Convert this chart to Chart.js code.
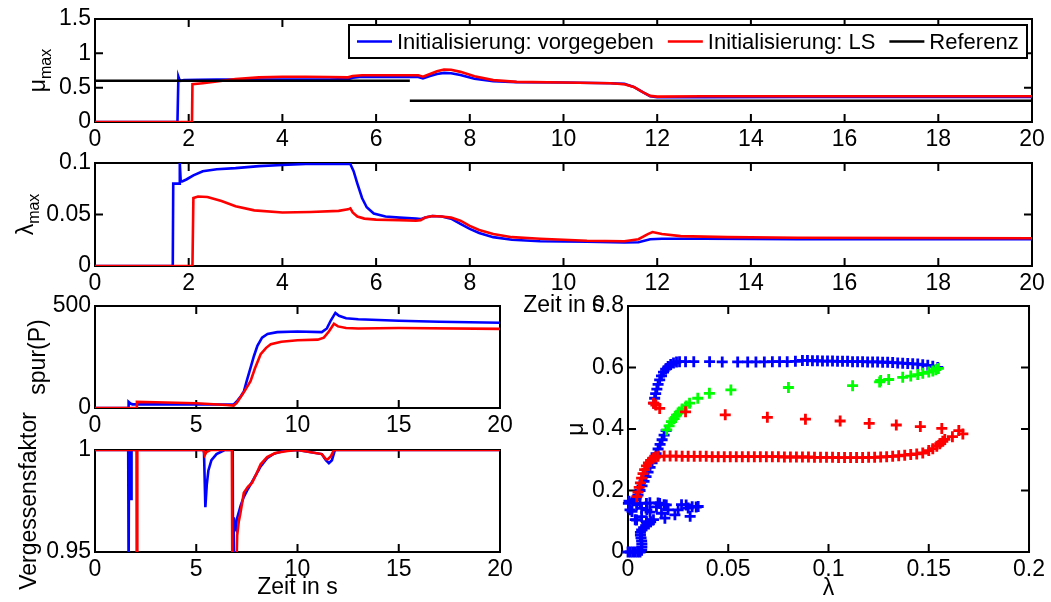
<!DOCTYPE html>
<html>
<head>
<meta charset="utf-8">
<script src="https://cdn.jsdelivr.net/npm/chart.js@4/dist/chart.umd.min.js"></script>
<style>
html, body { margin: 0; padding: 0; background: #fff; }
#wrap { position: relative; width: 1051px; height: 602px; }
#wrap canvas { position: absolute; left: 0; top: 0; }
</style>
</head>
<body>
<div id="wrap">
  <canvas id="cMu" width="1051" height="602"></canvas>
  <canvas id="cLa" width="1051" height="602"></canvas>
  <canvas id="cSp" width="1051" height="602"></canvas>
  <canvas id="cVf" width="1051" height="602"></canvas>
  <canvas id="cSc" width="1051" height="602"></canvas>
</div>
<script>
// ---- Daten ----
// mu_max
const tMuB = [0,1.76,1.78,1.80,1.83,1.9,2.2,2.6,3,4,5,5.4,5.5,5.65,6.2,6.9,7.0,7.15,7.3,7.45,7.6,7.8,8.1,8.5,9.0,10,11.0,11.3,11.5,11.7,11.85,12.0,13,15,17,20];
const muB  = [0,0,0.66,0.62,0.60,0.61,0.615,0.62,0.62,0.62,0.62,0.625,0.645,0.655,0.655,0.655,0.635,0.67,0.70,0.715,0.71,0.685,0.63,0.595,0.58,0.575,0.565,0.555,0.51,0.43,0.375,0.36,0.36,0.365,0.365,0.365];
const tMuR = [0,2.07,2.08,2.3,2.6,3.0,3.5,4.0,4.5,5.0,5.4,5.5,5.7,6.3,6.9,7.0,7.15,7.3,7.45,7.6,7.8,8.1,8.5,9.0,10,11.0,11.3,11.5,11.7,11.85,12.0,13,15,17,20];
const muR  = [0,0,0.55,0.565,0.59,0.625,0.65,0.66,0.66,0.655,0.65,0.67,0.68,0.68,0.68,0.66,0.70,0.74,0.765,0.76,0.73,0.665,0.61,0.585,0.575,0.565,0.55,0.51,0.43,0.38,0.37,0.375,0.375,0.375,0.375];
const tRef = [0,6.72,6.72,6.72,20];
const muRef = [0.6,0.6,null,0.31,0.31];

// lambda_max
const tLaB = [0,1.66,1.67,1.80,1.81,1.83,1.86,1.95,2.1,2.3,2.6,3.0,3.5,4.0,4.5,5.0,5.45,5.52,5.6,5.7,5.8,5.95,6.2,6.5,6.85,6.95,7.05,7.2,7.4,7.6,7.8,8.0,8.2,8.5,8.9,9.5,10.5,11.3,11.6,11.85,12.1,13,15,20];
const laB  = [0,0,0.08,0.08,0.1,0.082,0.082,0.084,0.088,0.092,0.094,0.095,0.097,0.098,0.099,0.099,0.099,0.092,0.08,0.066,0.057,0.051,0.048,0.047,0.046,0.0455,0.047,0.0485,0.048,0.046,0.041,0.036,0.032,0.028,0.0255,0.024,0.0235,0.0228,0.023,0.026,0.0265,0.0265,0.026,0.026];
const tLaR = [0,2.08,2.1,2.2,2.4,2.7,3.0,3.4,4.0,4.6,5.2,5.4,5.45,5.5,5.6,5.75,6.0,6.5,6.85,6.95,7.05,7.2,7.4,7.6,7.8,8.0,8.2,8.5,8.9,9.5,10.5,11.3,11.6,11.8,11.9,12.1,12.5,13.5,15,20];
const laR  = [0,0,0.066,0.0675,0.067,0.063,0.058,0.054,0.052,0.0525,0.0535,0.055,0.056,0.052,0.048,0.046,0.045,0.0445,0.044,0.0445,0.047,0.0485,0.048,0.047,0.044,0.039,0.035,0.031,0.028,0.0265,0.0245,0.024,0.026,0.031,0.033,0.031,0.029,0.028,0.0275,0.027];

// spur(P)
const tSpB = [0,1.64,1.66,1.75,1.85,3,5,6.85,7.0,7.2,7.35,7.5,7.68,7.85,8.02,8.25,8.52,9,10,11.2,11.45,11.65,11.87,12.05,12.4,13,15,17,20];
const spB  = [0,0,30,22,18,18,17,18,32,58,81,135,197,255,305,345,363,372,375,372,390,430,466,452,440,435,428,423,418];
const tSpR = [0,2.05,2.07,3,5,6.5,6.85,7.0,7.2,7.4,7.68,7.9,8.18,8.45,8.68,9.2,10,11,11.3,11.55,11.8,12.0,12.4,13,15,20];
const spR  = [0,0,30,28,23,15,12,25,55,85,131,195,264,295,313,325,332,335,345,375,413,400,392,390,392,388];

// Vergessensfaktor
const tVfB = [0,1.64,1.65,1.67,1.68,1.77,1.78,1.80,1.81,5.38,5.45,5.52,5.6,5.75,6.0,6.4,6.8,6.82,6.84,6.86,6.9,6.96,7.0,7.2,7.35,7.5,7.68,7.9,8.18,8.5,8.8,9.3,10,11.2,11.4,11.55,11.7,11.85,20];
const vfB  = [1,1,0.94,0.94,1,1,0.976,0.976,1,1,0.972,0.983,0.99,0.995,0.998,1,1,0.94,0.967,0.967,0.962,0.961,0.966,0.973,0.977,0.98,0.983,0.987,0.992,0.996,0.998,0.9995,1,0.998,0.995,0.9935,0.995,1,1];
const tVfR = [0,2.05,2.06,2.08,2.09,5.35,5.42,5.5,5.7,6.76,6.78,6.98,7.02,7.1,7.18,7.35,7.55,7.76,8.0,8.18,8.5,8.9,9.5,10,11.2,11.4,11.5,11.65,11.8,20];
const vfR  = [1,1,0.94,0.94,1,1,0.9975,0.999,1,1,0.94,0.94,0.958,0.965,0.969,0.979,0.982,0.984,0.989,0.993,0.9965,0.9985,0.9995,1,0.998,0.9955,0.9955,0.997,1,1];

// Streudiagramm mu ueber lambda
const scBLam = [0,0.0012,0.0024,0.0036,0.0048,0.006,0.0068,0.0069,0.0069,0.0068,0.0065,0.0062,0.0062,0.0068,0.0078,0.009,0.0102,0.0113,
  0.0002,0.001,0.0005,0.002,0.0036,0.0043,0.006,0.0068,0.0092,0.0094,0.0094,0.0109,0.011,0.0127,0.0142,0.015,0.0158,0.0167,0.018,0.0184,0.0191,0.02,0.0234,0.025,0.0267,0.029,0.03,0.031,0.032,0.034,0.035,0.0043,0.0068,0.0092,0.003,0.004,
  0.005,0.006,0.007,0.008,0.009,0.01,0.011,0.012,0.013,0.014,0.015,0.016,0.017,0.018,0.019,
  0.0129,0.0133,0.0138,0.0144,0.015,0.0158,0.0167,0.0177,0.0188,0.02,0.0213,0.0227,0.0242,0.0257,
  0.0287,0.0328,0.0407,0.047,0.0547,0.0597,0.0638,0.068,0.072,0.0756,0.0794,0.0835,
  0.087,0.0895,0.092,0.0945,0.097,0.0995,0.102,0.1045,0.107,0.1095,0.112,0.1145,0.117,0.1195,0.122,0.1245,0.127,0.1295,0.132,0.1345,0.137,0.1395,0.142,0.1445,0.147,0.1495,0.152,0.1545];
const scBMu = [0,0,0,0,0,0,0.006,0.016,0.026,0.036,0.046,0.055,0.064,0.072,0.079,0.085,0.091,0.098,
  0.158,0.137,0.165,0.132,0.105,0.153,0.159,0.142,0.158,0.137,0.094,0.16,0.13,0.105,0.147,0.159,0.158,0.126,0.154,0.11,0.153,0.137,0.121,0.137,0.154,0.153,0.143,0.116,0.147,0.146,0.148,0.104,0.115,0.099,0.17,0.175,
  0.185,0.2,0.215,0.23,0.245,0.26,0.275,0.29,0.305,0.32,0.335,0.35,0.365,0.38,0.395,
  0.484,0.5,0.515,0.53,0.545,0.56,0.573,0.585,0.595,0.603,0.61,0.615,0.618,0.619,
  0.619,0.619,0.619,0.618,0.618,0.618,0.618,0.618,0.619,0.619,0.619,0.62,
  0.623,0.623,0.622,0.622,0.621,0.621,0.621,0.62,0.62,0.62,0.619,0.619,0.619,0.618,0.618,0.618,0.617,0.617,0.616,0.615,0.614,0.613,0.612,0.611,0.609,0.607,0.604,0.6];
const scGLam = [0.0193,0.0205,0.0217,0.023,0.0242,0.0256,0.027,0.029,0.0307,0.0348,0.0406,0.0513,0.080,0.112,0.1255,0.126,0.13,0.137,0.141,0.1445,0.147,0.15,0.152,0.1535,0.1548];
const scGMu  = [0.397,0.41,0.424,0.434,0.445,0.455,0.465,0.475,0.484,0.5,0.516,0.527,0.535,0.541,0.553,0.558,0.561,0.568,0.572,0.577,0.581,0.585,0.589,0.593,0.597];
const scRLam = [0.0044,0.005,0.0056,0.0062,0.0068,0.0075,0.0083,0.0092,0.0102,0.0113,0.0125,0.0137,
  0.015,0.018,0.021,0.024,0.027,0.03,0.033,0.036,0.039,0.042,0.045,0.048,0.051,0.054,0.057,0.06,0.063,0.066,0.069,0.072,0.075,0.078,0.081,0.084,0.087,0.09,0.093,0.096,0.099,0.102,0.105,0.108,0.111,0.114,0.117,0.12,0.123,0.126,0.129,0.132,0.135,0.138,0.141,0.144,
  0.147,0.15,0.152,0.154,0.1555,0.157,0.158,
  0.0127,0.0139,0.0158,0.0287,0.0485,0.0695,0.0885,0.1058,0.1203,0.1338,0.1458,0.1565,0.1618,0.165,0.167];
const scRMu = [0.18,0.195,0.21,0.225,0.24,0.255,0.268,0.28,0.29,0.298,0.305,0.309,
  0.311,0.312,0.312,0.312,0.311,0.311,0.311,0.311,0.311,0.31,0.31,0.31,0.31,0.31,0.31,0.31,0.31,0.31,0.31,0.31,0.31,0.309,0.309,0.309,0.309,0.309,0.308,0.308,0.308,0.308,0.307,0.307,0.307,0.307,0.307,0.308,0.308,0.309,0.31,0.311,0.313,0.315,0.317,0.319,
  0.322,0.33,0.336,0.344,0.352,0.36,0.366,
  0.484,0.478,0.467,0.456,0.446,0.438,0.432,0.426,0.418,0.413,0.408,0.402,0.375,0.395,0.384];

// Achsenteilung
const ticksT2 = [0,2,4,6,8,10,12,14,16,18,20];
const ticksT5 = [0,5,10,15,20];
const ticksMu = [0,0.5,1,1.5];
const ticksLa = [0,0.05,0.1];
const ticksSp = [0,500];
const ticksVf = [0.95,1];
const ticksScX = [0,0.05,0.1,0.15,0.2];
const ticksScY = [0,0.2,0.4,0.6,0.8];

const FONT = '"Liberation Sans", Arial, Helvetica, sans-serif';
const FS = 23;
Chart.defaults.font.family = FONT;
Chart.defaults.font.size = FS;
Chart.defaults.color = '#000';

function pts(xs, ys) { return xs.map((x, i) => ({ x: x, y: ys[i] })); }

// Rahmen + Ticks nach innen (wie MATLAB)
const matlabFrame = {
  id: 'matlabFrame',
  beforeDatasetsDraw(chart) {
    const ctx = chart.ctx, a = chart.chartArea;
    const xs = chart.scales.x, ys = chart.scales.y;
    ctx.save();
    ctx.strokeStyle = '#000';
    ctx.lineWidth = 2;
    ctx.beginPath();
    xs.ticks.forEach(t => {
      const p = xs.getPixelForValue(t.value);
      ctx.moveTo(p, a.bottom); ctx.lineTo(p, a.bottom - 8);
      ctx.moveTo(p, a.top); ctx.lineTo(p, a.top + 8);
    });
    ys.ticks.forEach(t => {
      const p = ys.getPixelForValue(t.value);
      ctx.moveTo(a.left, p); ctx.lineTo(a.left + 8, p);
      ctx.moveTo(a.right, p); ctx.lineTo(a.right - 8, p);
    });
    ctx.stroke();
    ctx.strokeRect(a.left, a.top, a.right - a.left, a.bottom - a.top);
    ctx.restore();
  },
  afterDraw(chart, args, o) {
    const ctx = chart.ctx, a = chart.chartArea;
    ctx.save();
    ctx.fillStyle = '#000';
    if (o.xTitle) {
      ctx.font = FS + 'px ' + FONT;
      ctx.textAlign = 'center';
      ctx.textBaseline = 'middle';
      ctx.fillText(o.xTitle, (a.left + a.right) / 2, o.xTitleY);
    }
    if (o.yTitle) {
      ctx.font = FS + 'px ' + FONT;
      const w1 = ctx.measureText(o.yTitle).width;
      let w2 = 0;
      if (o.ySub) { ctx.font = '16px ' + FONT; w2 = ctx.measureText(o.ySub).width; }
      ctx.translate(o.yTitleX, (a.top + a.bottom) / 2);
      ctx.rotate(-Math.PI / 2);
      ctx.textAlign = 'left';
      ctx.textBaseline = 'alphabetic';
      ctx.font = FS + 'px ' + FONT;
      ctx.fillText(o.yTitle, -(w1 + w2) / 2, 0);
      if (o.ySub) {
        ctx.font = '16px ' + FONT;
        ctx.fillText(o.ySub, -(w1 + w2) / 2 + w1, 6);
      }
    }
    ctx.restore();
  }
};

// Legende im Kasten
const boxLegend = {
  id: 'boxLegend',
  afterDraw(chart, args, o) {
    if (!o.show) return;
    const ctx = chart.ctx;
    ctx.save();
    ctx.fillStyle = '#fff';
    ctx.fillRect(o.x, o.y, o.w, o.h);
    ctx.strokeStyle = '#000';
    ctx.lineWidth = 2;
    ctx.strokeRect(o.x, o.y, o.w, o.h);
    ctx.font = '22px ' + FONT;
    ctx.textBaseline = 'middle';
    ctx.textAlign = 'left';
    let x = o.x + 8;
    const y = o.y + o.h / 2;
    chart.data.datasets.forEach(ds => {
      ctx.strokeStyle = ds.borderColor;
      ctx.lineWidth = 2.6;
      ctx.beginPath(); ctx.moveTo(x, y); ctx.lineTo(x + 35, y); ctx.stroke();
      x += 40;
      ctx.fillStyle = '#000';
      ctx.fillText(ds.label, x, y + 1);
      x += ctx.measureText(ds.label).width + 14;
    });
    ctx.restore();
  }
};

function axis(min, max, ticks, size, horizontal) {
  return {
    type: 'linear', min: min, max: max,
    grid: { display: false, drawTicks: false },
    border: { display: false },
    afterBuildTicks: s => { s.ticks = ticks.map(v => ({ value: v })); },
    afterFit: s => { if (horizontal) s.height = size; else s.width = size; },
    ticks: {
      autoSkip: false, maxRotation: 0, minRotation: 0,
      padding: horizontal ? 6 : 4,
      font: { size: FS, lineHeight: 1 },
      color: '#000',
      callback: v => String(+Number(v).toFixed(4))
    }
  };
}

// Plotbereich: l,t,r,b in Pixeln
function makeChart(id, box, xAx, yAx, datasets, plug) {
  const H = 40;
  return new Chart(document.getElementById(id), {
    type: 'line',
    data: { datasets: datasets },
    options: {
      responsive: false,
      animation: false,
      events: [],
      layout: { padding: { left: 0, top: box.t, right: 1051 - box.r, bottom: 602 - box.b - H } },
      scales: {
        x: axis(xAx.min, xAx.max, xAx.ticks, H, true),
        y: axis(yAx.min, yAx.max, yAx.ticks, box.l, false)
      },
      plugins: Object.assign({ legend: { display: false }, tooltip: { enabled: false } }, plug)
    },
    plugins: [matlabFrame, boxLegend]
  });
}

function line(label, xs, ys, color, order) {
  return { label: label, data: pts(xs, ys), borderColor: color, backgroundColor: color,
    borderWidth: 2.6, pointRadius: 0, tension: 0, spanGaps: false, fill: false, order: order };
}
function marks(label, xs, ys, color, order) {
  return { label: label, data: pts(xs, ys), borderColor: color, backgroundColor: color,
    showLine: false, pointStyle: 'cross', pointRadius: 5.5, borderWidth: 2.8, clip: false, order: order };
}

const BLUE = '#0000ff', RED = '#ff0000', GREEN = '#00ff00', BLACK = '#000000';

makeChart('cMu', { l: 95, t: 19, r: 1032, b: 122 },
  { min: 0, max: 20, ticks: ticksT2 }, { min: 0, max: 1.5, ticks: ticksMu },
  [line('Initialisierung: vorgegeben', tMuB, muB, BLUE, 2),
   line('Initialisierung: LS', tMuR, muR, RED, 1),
   line('Referenz', tRef, muRef, BLACK, 0)],
  { matlabFrame: { yTitle: 'μ', ySub: 'max', yTitleX: 45 },
    boxLegend: { show: true, x: 349, y: 25, w: 678, h: 33 } });

makeChart('cLa', { l: 95, t: 163, r: 1032, b: 266 },
  { min: 0, max: 20, ticks: ticksT2 }, { min: 0, max: 0.1, ticks: ticksLa },
  [line('vorgegeben', tLaB, laB, BLUE, 1), line('LS', tLaR, laR, RED, 0)],
  { matlabFrame: { yTitle: 'λ', ySub: 'max', yTitleX: 33, xTitle: 'Zeit in s', xTitleY: 306 },
    boxLegend: { show: false } });

makeChart('cSp', { l: 95, t: 306, r: 500, b: 408 },
  { min: 0, max: 20, ticks: ticksT5 }, { min: 0, max: 500, ticks: ticksSp },
  [line('vorgegeben', tSpB, spB, BLUE, 1), line('LS', tSpR, spR, RED, 0)],
  { matlabFrame: { yTitle: 'spur(P)', yTitleX: 45 }, boxLegend: { show: false } });

makeChart('cVf', { l: 95, t: 450, r: 500, b: 552 },
  { min: 0, max: 20, ticks: ticksT5 }, { min: 0.95, max: 1, ticks: ticksVf },
  [line('vorgegeben', tVfB, vfB, BLUE, 1), line('LS', tVfR, vfR, RED, 0)],
  { matlabFrame: { yTitle: 'Vergessensfaktor', yTitleX: 36, xTitle: 'Zeit in s', xTitleY: 588 },
    boxLegend: { show: false } });

makeChart('cSc', { l: 628, t: 306, r: 1032, b: 552 },
  { min: 0, max: 0.2, ticks: ticksScX }, { min: 0, max: 0.8, ticks: ticksScY },
  [marks('rot', scRLam, scRMu, RED, 0), marks('gruen', scGLam, scGMu, GREEN, 1), marks('blau', scBLam, scBMu, BLUE, 2)],
  { matlabFrame: { yTitle: 'μ', yTitleX: 583, xTitle: 'λ', xTitleY: 589 }, boxLegend: { show: false } });
</script>
</body>
</html>
